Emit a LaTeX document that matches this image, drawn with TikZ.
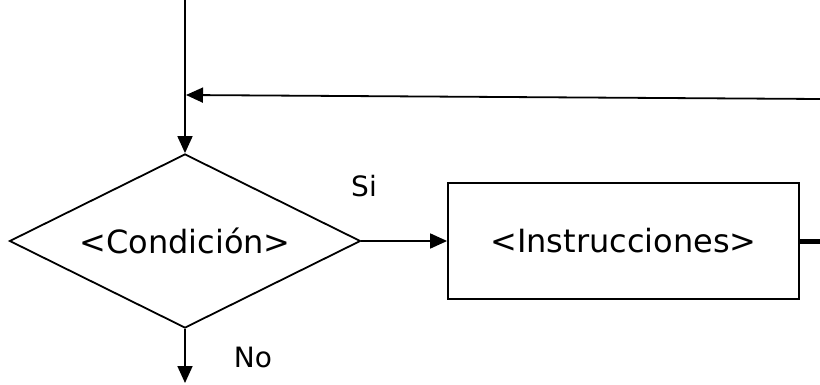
\documentclass[tikz,border=0pt]{standalone}
\usepackage{fontspec}
\setmainfont{DejaVu Sans}
\usetikzlibrary{shapes.geometric,arrows.meta}
\begin{document}
\begin{tikzpicture}[x=1pt,y=-1pt,
  flow/.style={line width=1.8pt,-{Triangle[length=17pt,width=15pt]}},
  decision/.style={draw,line width=1.8pt,shape=diamond,aspect=2,inner sep=0pt,
    minimum width=351pt,minimum height=174pt,font=\fontsize{32}{36}\selectfont},
  process/.style={draw,line width=1.8pt,rectangle,inner sep=0pt,
    minimum width=351pt,minimum height=116pt,font=\fontsize{32}{36}\selectfont},
  tag/.style={font=\fontsize{28}{32}\selectfont,inner sep=0pt}]
  \useasboundingbox (0,0) rectangle (820,385);

  % shapes
  \node[decision] (cond) at (185,241) {<Condición>};
  \node[process] (instr) at (623.5,241) {<Instrucciones>};

  % free ends of the connectors
  \coordinate (entry) at (185,0);
  \coordinate (join) at (186,95);
  \coordinate (back) at (820,99);
  \coordinate (exit) at (185,383);
  \coordinate (loopout) at (820,241);

  % connectors
  \draw[flow] (entry) -- (cond.north);
  \draw[flow] (back) -- (join);
  \draw[flow] (cond.east) -- (instr.west);
  \draw[flow] (cond.south) -- (exit);
  \draw[line width=5pt] (instr.east) -- (loopout);

  % branch labels
  \node[tag] (si) at (364,186) {Si};
  \node[tag] (no) at (253,357) {No};
\end{tikzpicture}
\end{document}
